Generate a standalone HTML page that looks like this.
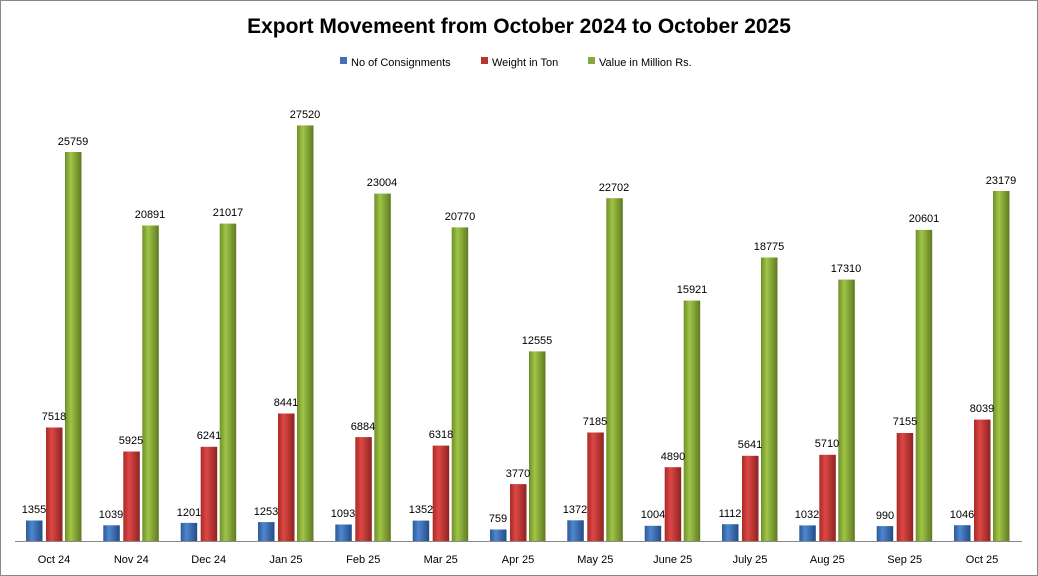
<!DOCTYPE html>
<html><head><meta charset="utf-8"><style>
html,body{margin:0;padding:0;background:#fff}
svg{display:block;font-family:"Liberation Sans",sans-serif}
</style></head><body>
<svg width="1038" height="576" viewBox="0 0 1038 576" xmlns="http://www.w3.org/2000/svg">
<defs>
<linearGradient id="gb" x1="0" x2="1" y1="0" y2="0"><stop offset="0" stop-color="#2a5a9a"/><stop offset="0.35" stop-color="#4f86cf"/><stop offset="1" stop-color="#234c85"/></linearGradient>
<linearGradient id="gr" x1="0" x2="1" y1="0" y2="0"><stop offset="0" stop-color="#a82a28"/><stop offset="0.35" stop-color="#dc4744"/><stop offset="1" stop-color="#8e2321"/></linearGradient>
<linearGradient id="gg" x1="0" x2="1" y1="0" y2="0"><stop offset="0" stop-color="#6f8e2a"/><stop offset="0.35" stop-color="#9fc546"/><stop offset="1" stop-color="#5f7a22"/></linearGradient>
</defs>
<rect x="0.5" y="0.5" width="1037" height="575" fill="#fff" stroke="#888"/>
<text x="519" y="33" text-anchor="middle" font-size="21" font-weight="bold" fill="#000">Export Movemeent from October 2024 to October 2025</text>
<g font-size="11" fill="#000">
<rect x="340" y="57" width="7" height="7" fill="#3f72b8"/><text x="351" y="66">No of Consignments</text>
<rect x="481" y="57" width="7" height="7" fill="#b93532"/><text x="492" y="66">Weight in Ton</text>
<rect x="588" y="57" width="7" height="7" fill="#86a73a"/><text x="599" y="66">Value in Million Rs.</text>
</g>
<line x1="15" y1="541.5" x2="1022" y2="541.5" stroke="#888" stroke-width="1"/>
<g>
<rect x="26" y="520.5" width="16.5" height="20.5" fill="url(#gb)"/><rect x="46" y="427.5" width="16.5" height="113.5" fill="url(#gr)"/><rect x="65" y="152" width="16.5" height="389" fill="url(#gg)"/>
<rect x="103.3" y="525.3" width="16.5" height="15.7" fill="url(#gb)"/><rect x="123.3" y="451.5" width="16.5" height="89.5" fill="url(#gr)"/><rect x="142.3" y="225.5" width="16.5" height="315.5" fill="url(#gg)"/>
<rect x="180.7" y="522.9" width="16.5" height="18.1" fill="url(#gb)"/><rect x="200.7" y="446.8" width="16.5" height="94.2" fill="url(#gr)"/><rect x="219.7" y="223.6" width="16.5" height="317.4" fill="url(#gg)"/>
<rect x="258" y="522.1" width="16.5" height="18.9" fill="url(#gb)"/><rect x="278" y="413.5" width="16.5" height="127.5" fill="url(#gr)"/><rect x="297" y="125.4" width="16.5" height="415.6" fill="url(#gg)"/>
<rect x="335.3" y="524.5" width="16.5" height="16.5" fill="url(#gb)"/><rect x="355.3" y="437.1" width="16.5" height="103.9" fill="url(#gr)"/><rect x="374.3" y="193.6" width="16.5" height="347.4" fill="url(#gg)"/>
<rect x="412.7" y="520.6" width="16.5" height="20.4" fill="url(#gb)"/><rect x="432.7" y="445.6" width="16.5" height="95.4" fill="url(#gr)"/><rect x="451.7" y="227.4" width="16.5" height="313.6" fill="url(#gg)"/>
<rect x="490" y="529.5" width="16.5" height="11.5" fill="url(#gb)"/><rect x="510" y="484.1" width="16.5" height="56.9" fill="url(#gr)"/><rect x="529" y="351.4" width="16.5" height="189.6" fill="url(#gg)"/>
<rect x="567.3" y="520.3" width="16.5" height="20.7" fill="url(#gb)"/><rect x="587.3" y="432.5" width="16.5" height="108.5" fill="url(#gr)"/><rect x="606.3" y="198.2" width="16.5" height="342.8" fill="url(#gg)"/>
<rect x="644.7" y="525.8" width="16.5" height="15.2" fill="url(#gb)"/><rect x="664.7" y="467.2" width="16.5" height="73.8" fill="url(#gr)"/><rect x="683.7" y="300.6" width="16.5" height="240.4" fill="url(#gg)"/>
<rect x="722" y="524.2" width="16.5" height="16.8" fill="url(#gb)"/><rect x="742" y="455.8" width="16.5" height="85.2" fill="url(#gr)"/><rect x="761" y="257.5" width="16.5" height="283.5" fill="url(#gg)"/>
<rect x="799.3" y="525.4" width="16.5" height="15.6" fill="url(#gb)"/><rect x="819.3" y="454.8" width="16.5" height="86.2" fill="url(#gr)"/><rect x="838.3" y="279.6" width="16.5" height="261.4" fill="url(#gg)"/>
<rect x="876.7" y="526.1" width="16.5" height="14.9" fill="url(#gb)"/><rect x="896.7" y="433" width="16.5" height="108" fill="url(#gr)"/><rect x="915.7" y="229.9" width="16.5" height="311.1" fill="url(#gg)"/>
<rect x="954" y="525.2" width="16.5" height="15.8" fill="url(#gb)"/><rect x="974" y="419.6" width="16.5" height="121.4" fill="url(#gr)"/><rect x="993" y="191" width="16.5" height="350" fill="url(#gg)"/>
</g>
<g font-size="11" fill="#000" text-anchor="middle">
<text x="34" y="513">1355</text><text x="54" y="420">7518</text><text x="73" y="145">25759</text>
<text x="111" y="518">1039</text><text x="131" y="444">5925</text><text x="150" y="218">20891</text>
<text x="189" y="516">1201</text><text x="209" y="439">6241</text><text x="228" y="216">21017</text>
<text x="266" y="515">1253</text><text x="286" y="406">8441</text><text x="305" y="118">27520</text>
<text x="343" y="517">1093</text><text x="363" y="430">6884</text><text x="382" y="186">23004</text>
<text x="421" y="513">1352</text><text x="441" y="438">6318</text><text x="460" y="220">20770</text>
<text x="498" y="522">759</text><text x="518" y="477">3770</text><text x="537" y="344">12555</text>
<text x="575" y="513">1372</text><text x="595" y="425">7185</text><text x="614" y="191">22702</text>
<text x="653" y="518">1004</text><text x="673" y="460">4890</text><text x="692" y="293">15921</text>
<text x="730" y="517">1112</text><text x="750" y="448">5641</text><text x="769" y="250">18775</text>
<text x="807" y="518">1032</text><text x="827" y="447">5710</text><text x="846" y="272">17310</text>
<text x="885" y="519">990</text><text x="905" y="425">7155</text><text x="924" y="222">20601</text>
<text x="962" y="518">1046</text><text x="982" y="412">8039</text><text x="1001" y="184">23179</text>
</g>
<g font-size="11" fill="#000" text-anchor="middle">
<text x="54" y="563">Oct 24</text><text x="131.3" y="563">Nov 24</text><text x="208.7" y="563">Dec 24</text><text x="286" y="563">Jan 25</text><text x="363.3" y="563">Feb 25</text><text x="440.7" y="563">Mar 25</text><text x="518" y="563">Apr 25</text><text x="595.3" y="563">May 25</text><text x="672.7" y="563">June 25</text><text x="750" y="563">July 25</text><text x="827.3" y="563">Aug 25</text><text x="904.7" y="563">Sep 25</text><text x="982" y="563">Oct 25</text>
</g>
</svg>
</body></html>
